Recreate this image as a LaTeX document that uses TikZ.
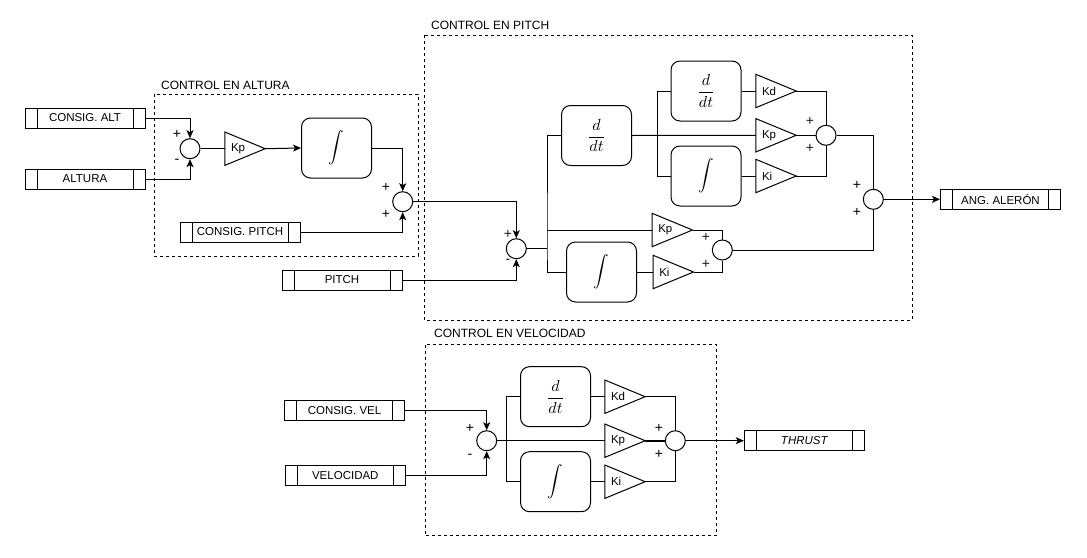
\documentclass[tikz,border=0pt]{standalone}
\usepackage{fontspec}
\setmainfont{Liberation Sans}
\usetikzlibrary{arrows.meta,calc}
\definecolor{pls}{HTML}{2A0A40}
\tikzset{
  every picture/.style={x=1pt,y=-1pt},
  wire/.style={line width=1pt,draw=black},
  arr/.style={wire,-{Stealth[length=8pt,width=7pt,inset=2pt]}},
  sig/.style={draw,line width=1pt,minimum width=120pt,minimum height=20pt,inner sep=0pt,
    font=\fontsize{11.5}{13}\selectfont,
    path picture={\draw[line width=1pt] ([xshift=12pt]path picture bounding box.north west) -- ([xshift=12pt]path picture bounding box.south west);
                  \draw[line width=1pt] ([xshift=-12pt]path picture bounding box.north east) -- ([xshift=-12pt]path picture bounding box.south east);}},
  sumc/.style={draw,circle,line width=1pt,minimum size=20pt,inner sep=0pt},
  blk/.style={draw,line width=1pt,rounded corners=9pt,minimum width=70pt,minimum height=60pt,inner sep=0pt},
  gainbox/.style={minimum width=40pt,minimum height=33pt,inner sep=0pt,font=\fontsize{11.5}{13}\selectfont,
    append after command={\pgfextra{\draw[line width=1pt,line join=miter] (\tikzlastnode.north west) -- (\tikzlastnode.east) -- (\tikzlastnode.south west) -- cycle;}}},
  grp/.style={draw,line width=1pt,dash pattern=on 3pt off 3pt},
  ttl/.style={anchor=west,inner sep=0pt,font=\fontsize{12}{14}\selectfont},
  pm/.style={inner sep=0pt,font=\fontsize{14}{16}\selectfont},
}
\newcommand{\ddt}{\scalebox{1.6}{$\displaystyle\frac{d}{dt}$}}
\newcommand{\intg}{\scalebox{1.55}{$\displaystyle\int$}}
\newcommand{\gl}[1]{\makebox[40pt][l]{\hspace{6pt}#1}}
\begin{document}
\begin{tikzpicture}
\useasboundingbox (0,0) rectangle (1087,557);
\fill[white] (0,0) rectangle (1087,557);

% group frames
\draw[grp] (154,94) rectangle (418,256);
\draw[grp] (424,35) rectangle (912,320);
\draw[grp] (425,344.5) rectangle (716.3,535.7);
\node[ttl] (t1) at (161,85.5) {CONTROL EN ALTURA};
\node[ttl] (t2) at (431,25.5) {CONTROL EN PITCH};
\node[ttl] (t3) at (434,333) {CONTROL EN VELOCIDAD};

% ---------------- altitude ----------------
\node[sig] (alt) at (85,118) {CONSIG. ALT};
\node[sig] (altura) at (85,179) {ALTURA};
\node[sig] (cpitch) at (240,232) {CONSIG. PITCH};
\node[sig] (pitch) at (342,280) {PITCH};
\node[sumc] (s1) at (190,148.7) {};
\node[sumc] (s2) at (402.7,201.7) {};
\node[gainbox] (kp1) at (245,148.7) {\gl{Kp}};
\node[blk] (int1) at (336.5,148) {\intg};
\node[pm] at (177,134) {+};
\node[pm] at (177,161) {-};
\node[pm] at (386,187) {+};
\node[pm] at (386,214) {+};

\draw[arr] (alt.east) -| (s1.north);
\draw[arr] (altura.east) -| (s1.south);
\draw[wire] (s1.east) -- (kp1.west);
\draw[arr] (kp1.east) -- (int1.west);
\draw[arr] (int1.east) -| (s2.north);
\draw[arr] (cpitch.east) -| (s2.south);

% ---------------- pitch ----------------
\node[sumc] (s3) at (516.3,248.7) {};
\node[sumc] (s4) at (722.3,250) {};
\node[sumc] (s5) at (873.3,199.3) {};
\node[sumc] (s6) at (826,135.3) {};
\node[blk] (dd1) at (596.5,135.5) {\ddt};
\node[blk] (int2) at (601.5,272) {\intg};
\node[blk] (dd3) at (706,91) {\ddt};
\node[blk] (int3) at (706,176) {\intg};
\node[gainbox] (kp2) at (672.3,230) {\gl{Kp}};
\node[gainbox] (ki2) at (673.3,272) {\gl{Ki}};
\node[gainbox] (kd3) at (776,91) {\gl{Kd}};
\node[gainbox] (kp3) at (776,135.3) {\gl{Kp}};
\node[gainbox] (ki3) at (776,176) {\gl{Ki}};
\node[sig] (aleron) at (1000.5,199.3) {ANG. ALERÓN};
\coordinate (jA) at (547,248.7);
\coordinate (jB) at (657.3,135.3);
\node[pm,text=pls] at (508,234) {+};
\node[pm,text=pls] at (508,261) {-};
\node[pm,text=pls] at (706,237) {+};
\node[pm,text=pls] at (706,264) {+};
\node[pm,text=pls] at (810,121) {+};
\node[pm,text=pls] at (810,148) {+};
\node[pm] at (857,185) {+};
\node[pm] at (857,212) {+};

\draw[arr] (s2.east) -| (s3.north);
\draw[arr] (pitch.east) -| (s3.south);
\draw[wire] (s3.east) -- (jA);
\draw[wire] (dd1.west) -| (jA) |- (int2.west);
\draw[wire] (jA |- kp2.west) -- (kp2.west);
\draw[wire] (dd1.east) -- (kp3.west);
\draw[wire] (dd3.west) -| (jB) |- (int3.west);
\draw[wire] (dd3.east) -- (kd3.west);
\draw[wire] (int3.east) -- (ki3.west);
\draw[wire] (int2.east) -- (ki2.west);
\draw[wire] (kd3.east) -| (s6.north);
\draw[wire] (ki3.east) -| (s6.south);
\draw[wire] (kp3.east) -- (s6.west);
\draw[wire] (kp2.east) -| (s4.north);
\draw[wire] (ki2.east) -| (s4.south);
\draw[wire] (s6.east) -| (s5.north);
\draw[wire] (s4.east) -| (s5.south);
\draw[arr] (s5.east) -- (aleron.west);

% ---------------- velocity ----------------
\node[sig] (cvel) at (344.5,410.7) {CONSIG. VEL};
\node[sig] (veloc) at (345.3,475.7) {VELOCIDAD};
\node[sumc] (s7) at (486.7,440.7) {};
\node[sumc] (s8) at (675.3,440.7) {};
\node[blk] (ddv) at (555.5,396.7) {\ddt};
\node[blk] (intv) at (555.5,481.7) {\intg};
\node[gainbox] (kdv) at (625,396.7) {\gl{Kd}};
\node[gainbox] (kpv) at (625,440.7) {\gl{Kp}};
\node[gainbox] (kiv) at (625,481.7) {\gl{Ki}};
\node[sig] (thrust) at (804.3,440.7) {\itshape THRUST};
\coordinate (jV) at (506.3,440.7);
\node[pm] at (470,428) {+};
\node[pm] at (470,456) {-};
\node[pm] at (659,428) {+};
\node[pm] at (659,454) {+};

\draw[arr] (cvel.east) -| (s7.north);
\draw[arr] (veloc.east) -| (s7.south);
\draw[wire] (s7.east) -- (kpv.west);
\draw[wire] (ddv.west) -| (jV) |- (intv.west);
\draw[wire] (ddv.east) -- (kdv.west);
\draw[wire] (intv.east) -- (kiv.west);
\draw[wire] (kdv.east) -| (s8.north);
\draw[wire] (kiv.east) -| (s8.south);
\draw[wire,line width=1.8pt] (kpv.east) -- (s8.west);
\draw[arr] (s8.east) -- (thrust.west);
\end{tikzpicture}
\end{document}
